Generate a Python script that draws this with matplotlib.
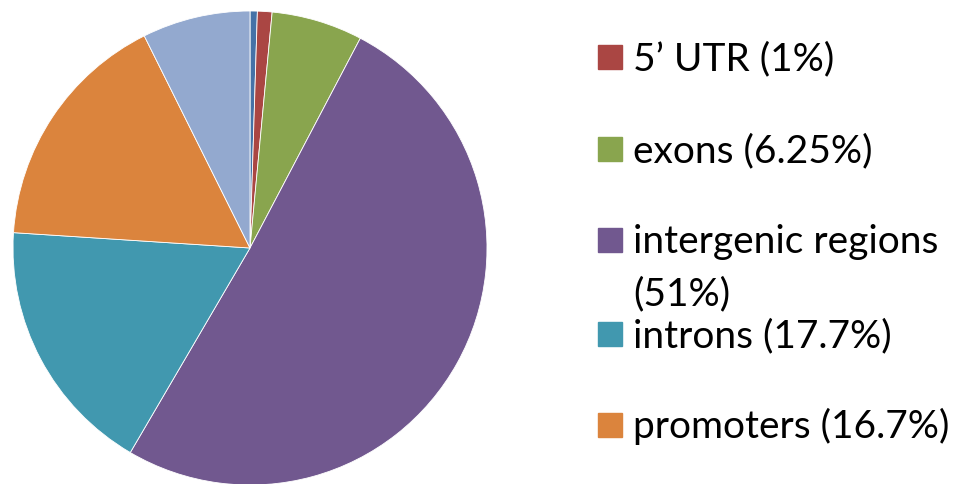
import matplotlib
matplotlib.use("Agg")
import matplotlib.pyplot as plt
from matplotlib.patches import Rectangle

# slices clockwise from 12 o'clock
labels = ["3' UTR", "5’ UTR (1%)", "exons (6.25%)", "intergenic regions\n(51%)",
          "introns (17.7%)", "promoters (16.7%)", "other"]
values = [0.5, 1.0, 6.25, 51.0, 17.7, 16.7, 7.4]
colors = ["#4572A7", "#AA4643", "#89A54E", "#71588F", "#4198AF", "#DB843D", "#93A9CF"]

# only these entries are visible in the legend
legend_idx = [1, 2, 3, 4, 5]
legend_base = [70, 162, 253, 347, 438]  # baseline, px from top
line_step = 52

W, H = 956, 485
fig = plt.figure(figsize=(W / 100, H / 100), dpi=100)

ax = fig.add_axes([13 / W, (H - 486) / H, 474 / W, 474 / H])
ax.pie(values, colors=colors, startangle=90, counterclock=False,
       wedgeprops=dict(edgecolor="white", linewidth=0.6))
ax.set_xlim(-1, 1)
ax.set_ylim(-1, 1)
ax.set_aspect("equal")
ax.axis("off")

for i, y in zip(legend_idx, legend_base):
    fig.add_artist(Rectangle((598 / W, (H - y) / H), 24 / W, 24 / H,
                             transform=fig.transFigure, color=colors[i]))
    for k, line in enumerate(labels[i].split("\n")):
        fig.text(633 / W, (H - y - k * line_step) / H, line, fontsize=28,
                 family="Lato", va="baseline")

fig.savefig("out.png", dpi=100)
